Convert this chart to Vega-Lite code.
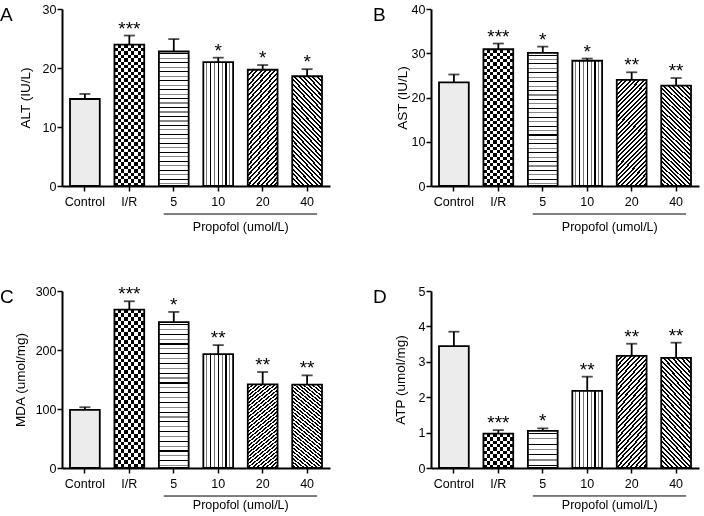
{
 "$schema": "https://vega.github.io/schema/vega-lite/v6.json",
 "padding": {"left": 0, "top": 3, "right": 4, "bottom": 0},
 "params": [
  {"name": "sd", "value": [
   {"offset":0,"color":"#000"},{"offset":0.015,"color":"#000"},{"offset":0.015,"color":"#fff"},{"offset":0.0333,"color":"#fff"},
   {"offset":0.0333,"color":"#000"},{"offset":0.0483,"color":"#000"},{"offset":0.0483,"color":"#fff"},{"offset":0.0667,"color":"#fff"},
   {"offset":0.0667,"color":"#000"},{"offset":0.0817,"color":"#000"},{"offset":0.0817,"color":"#fff"},{"offset":0.1,"color":"#fff"},
   {"offset":0.1,"color":"#000"},{"offset":0.115,"color":"#000"},{"offset":0.115,"color":"#fff"},{"offset":0.1333,"color":"#fff"},
   {"offset":0.1333,"color":"#000"},{"offset":0.1483,"color":"#000"},{"offset":0.1483,"color":"#fff"},{"offset":0.1667,"color":"#fff"},
   {"offset":0.1667,"color":"#000"},{"offset":0.1817,"color":"#000"},{"offset":0.1817,"color":"#fff"},{"offset":0.2,"color":"#fff"},
   {"offset":0.2,"color":"#000"},{"offset":0.215,"color":"#000"},{"offset":0.215,"color":"#fff"},{"offset":0.2333,"color":"#fff"},
   {"offset":0.2333,"color":"#000"},{"offset":0.2483,"color":"#000"},{"offset":0.2483,"color":"#fff"},{"offset":0.2667,"color":"#fff"},
   {"offset":0.2667,"color":"#000"},{"offset":0.2817,"color":"#000"},{"offset":0.2817,"color":"#fff"},{"offset":0.3,"color":"#fff"},
   {"offset":0.3,"color":"#000"},{"offset":0.315,"color":"#000"},{"offset":0.315,"color":"#fff"},{"offset":0.3333,"color":"#fff"},
   {"offset":0.3333,"color":"#000"},{"offset":0.3483,"color":"#000"},{"offset":0.3483,"color":"#fff"},{"offset":0.3667,"color":"#fff"},
   {"offset":0.3667,"color":"#000"},{"offset":0.3817,"color":"#000"},{"offset":0.3817,"color":"#fff"},{"offset":0.4,"color":"#fff"},
   {"offset":0.4,"color":"#000"},{"offset":0.415,"color":"#000"},{"offset":0.415,"color":"#fff"},{"offset":0.4333,"color":"#fff"},
   {"offset":0.4333,"color":"#000"},{"offset":0.4483,"color":"#000"},{"offset":0.4483,"color":"#fff"},{"offset":0.4667,"color":"#fff"},
   {"offset":0.4667,"color":"#000"},{"offset":0.4817,"color":"#000"},{"offset":0.4817,"color":"#fff"},{"offset":0.5,"color":"#fff"},
   {"offset":0.5,"color":"#000"},{"offset":0.515,"color":"#000"},{"offset":0.515,"color":"#fff"},{"offset":0.5333,"color":"#fff"},
   {"offset":0.5333,"color":"#000"},{"offset":0.5483,"color":"#000"},{"offset":0.5483,"color":"#fff"},{"offset":0.5667,"color":"#fff"},
   {"offset":0.5667,"color":"#000"},{"offset":0.5817,"color":"#000"},{"offset":0.5817,"color":"#fff"},{"offset":0.6,"color":"#fff"},
   {"offset":0.6,"color":"#000"},{"offset":0.615,"color":"#000"},{"offset":0.615,"color":"#fff"},{"offset":0.6333,"color":"#fff"},
   {"offset":0.6333,"color":"#000"},{"offset":0.6483,"color":"#000"},{"offset":0.6483,"color":"#fff"},{"offset":0.6667,"color":"#fff"},
   {"offset":0.6667,"color":"#000"},{"offset":0.6817,"color":"#000"},{"offset":0.6817,"color":"#fff"},{"offset":0.7,"color":"#fff"},
   {"offset":0.7,"color":"#000"},{"offset":0.715,"color":"#000"},{"offset":0.715,"color":"#fff"},{"offset":0.7333,"color":"#fff"},
   {"offset":0.7333,"color":"#000"},{"offset":0.7483,"color":"#000"},{"offset":0.7483,"color":"#fff"},{"offset":0.7667,"color":"#fff"},
   {"offset":0.7667,"color":"#000"},{"offset":0.7817,"color":"#000"},{"offset":0.7817,"color":"#fff"},{"offset":0.8,"color":"#fff"},
   {"offset":0.8,"color":"#000"},{"offset":0.815,"color":"#000"},{"offset":0.815,"color":"#fff"},{"offset":0.8333,"color":"#fff"},
   {"offset":0.8333,"color":"#000"},{"offset":0.8483,"color":"#000"},{"offset":0.8483,"color":"#fff"},{"offset":0.8667,"color":"#fff"},
   {"offset":0.8667,"color":"#000"},{"offset":0.8817,"color":"#000"},{"offset":0.8817,"color":"#fff"},{"offset":0.9,"color":"#fff"},
   {"offset":0.9,"color":"#000"},{"offset":0.915,"color":"#000"},{"offset":0.915,"color":"#fff"},{"offset":0.9333,"color":"#fff"},
   {"offset":0.9333,"color":"#000"},{"offset":0.9483,"color":"#000"},{"offset":0.9483,"color":"#fff"},{"offset":0.9667,"color":"#fff"},
   {"offset":0.9667,"color":"#000"},{"offset":0.9817,"color":"#000"},{"offset":0.9817,"color":"#fff"},{"offset":1,"color":"#fff"}
  ]},
  {"name": "g20", "expr": "{gradient: 'linear', x1: 0, y1: 0, x2: 0.34, y2: 1.189, stops: sd}"},
  {"name": "g40", "expr": "{gradient: 'linear', x1: 1, y1: 0, x2: 0.66, y2: 1.189, stops: sd}"},
  {"name": "gV", "value": {"gradient": "linear", "x1": 0, "y1": 0, "x2": 1, "y2": 0, "stops": [
   {"offset":0,"color":"#fff"},
   {"offset":0.102,"color":"#fff"},{"offset":0.102,"color":"#777"},{"offset":0.138,"color":"#777"},{"offset":0.138,"color":"#fff"},
   {"offset":0.222,"color":"#fff"},{"offset":0.222,"color":"#000"},{"offset":0.258,"color":"#000"},{"offset":0.258,"color":"#fff"},
   {"offset":0.342,"color":"#fff"},{"offset":0.342,"color":"#777"},{"offset":0.378,"color":"#777"},{"offset":0.378,"color":"#fff"},
   {"offset":0.482,"color":"#fff"},{"offset":0.482,"color":"#000"},{"offset":0.518,"color":"#000"},{"offset":0.518,"color":"#fff"},
   {"offset":0.622,"color":"#fff"},{"offset":0.622,"color":"#777"},{"offset":0.658,"color":"#777"},{"offset":0.658,"color":"#fff"},
   {"offset":0.742,"color":"#fff"},{"offset":0.742,"color":"#000"},{"offset":0.778,"color":"#000"},{"offset":0.778,"color":"#fff"},
   {"offset":0.862,"color":"#fff"},{"offset":0.862,"color":"#777"},{"offset":0.898,"color":"#777"},{"offset":0.898,"color":"#fff"},
   {"offset":1,"color":"#fff"}
  ]}},
  {"name": "gCV", "value": {"gradient": "linear", "x1": 0, "y1": 0, "x2": 1, "y2": 0, "stops": [
   {"offset":0,"color":"#000"},{"offset":0.1111,"color":"#000"},{"offset":0.1111,"color":"#fff"},{"offset":0.2222,"color":"#fff"},
   {"offset":0.2222,"color":"#000"},{"offset":0.3333,"color":"#000"},{"offset":0.3333,"color":"#fff"},{"offset":0.4444,"color":"#fff"},
   {"offset":0.4444,"color":"#000"},{"offset":0.5556,"color":"#000"},{"offset":0.5556,"color":"#fff"},{"offset":0.6667,"color":"#fff"},
   {"offset":0.6667,"color":"#000"},{"offset":0.7778,"color":"#000"},{"offset":0.7778,"color":"#fff"},{"offset":0.8889,"color":"#fff"},
   {"offset":0.8889,"color":"#000"},{"offset":1,"color":"#000"}
  ]}},
  {"name": "gCH", "value": {"gradient": "linear", "x1": 0, "y1": 0, "x2": 0, "y2": 1, "stops": [
   {"offset":0,"color":"#fff"},{"offset":0.0238,"color":"#fff"},{"offset":0.0238,"color":"#000"},{"offset":0.0476,"color":"#000"},
   {"offset":0.0476,"color":"#fff"},{"offset":0.0714,"color":"#fff"},{"offset":0.0714,"color":"#000"},{"offset":0.0952,"color":"#000"},
   {"offset":0.0952,"color":"#fff"},{"offset":0.119,"color":"#fff"},{"offset":0.119,"color":"#000"},{"offset":0.1429,"color":"#000"},
   {"offset":0.1429,"color":"#fff"},{"offset":0.1667,"color":"#fff"},{"offset":0.1667,"color":"#000"},{"offset":0.1905,"color":"#000"},
   {"offset":0.1905,"color":"#fff"},{"offset":0.2143,"color":"#fff"},{"offset":0.2143,"color":"#000"},{"offset":0.2381,"color":"#000"},
   {"offset":0.2381,"color":"#fff"},{"offset":0.2619,"color":"#fff"},{"offset":0.2619,"color":"#000"},{"offset":0.2857,"color":"#000"},
   {"offset":0.2857,"color":"#fff"},{"offset":0.3095,"color":"#fff"},{"offset":0.3095,"color":"#000"},{"offset":0.3333,"color":"#000"},
   {"offset":0.3333,"color":"#fff"},{"offset":0.3571,"color":"#fff"},{"offset":0.3571,"color":"#000"},{"offset":0.381,"color":"#000"},
   {"offset":0.381,"color":"#fff"},{"offset":0.4048,"color":"#fff"},{"offset":0.4048,"color":"#000"},{"offset":0.4286,"color":"#000"},
   {"offset":0.4286,"color":"#fff"},{"offset":0.4524,"color":"#fff"},{"offset":0.4524,"color":"#000"},{"offset":0.4762,"color":"#000"},
   {"offset":0.4762,"color":"#fff"},{"offset":0.5,"color":"#fff"},{"offset":0.5,"color":"#000"},{"offset":0.5238,"color":"#000"},
   {"offset":0.5238,"color":"#fff"},{"offset":0.5476,"color":"#fff"},{"offset":0.5476,"color":"#000"},{"offset":0.5714,"color":"#000"},
   {"offset":0.5714,"color":"#fff"},{"offset":0.5952,"color":"#fff"},{"offset":0.5952,"color":"#000"},{"offset":0.619,"color":"#000"},
   {"offset":0.619,"color":"#fff"},{"offset":0.6429,"color":"#fff"},{"offset":0.6429,"color":"#000"},{"offset":0.6667,"color":"#000"},
   {"offset":0.6667,"color":"#fff"},{"offset":0.6905,"color":"#fff"},{"offset":0.6905,"color":"#000"},{"offset":0.7143,"color":"#000"},
   {"offset":0.7143,"color":"#fff"},{"offset":0.7381,"color":"#fff"},{"offset":0.7381,"color":"#000"},{"offset":0.7619,"color":"#000"},
   {"offset":0.7619,"color":"#fff"},{"offset":0.7857,"color":"#fff"},{"offset":0.7857,"color":"#000"},{"offset":0.8095,"color":"#000"},
   {"offset":0.8095,"color":"#fff"},{"offset":0.8333,"color":"#fff"},{"offset":0.8333,"color":"#000"},{"offset":0.8571,"color":"#000"},
   {"offset":0.8571,"color":"#fff"},{"offset":0.881,"color":"#fff"},{"offset":0.881,"color":"#000"},{"offset":0.9048,"color":"#000"},
   {"offset":0.9048,"color":"#fff"},{"offset":0.9286,"color":"#fff"},{"offset":0.9286,"color":"#000"},{"offset":0.9524,"color":"#000"},
   {"offset":0.9524,"color":"#fff"},{"offset":0.9762,"color":"#fff"},{"offset":0.9762,"color":"#000"},{"offset":1,"color":"#000"}
  ]}},
  {"name": "gCH2", "value": {"gradient": "linear", "x1": 0, "y1": 0, "x2": 0, "y2": 1, "stops": [
   {"offset":0,"color":"#fff"},{"offset":0.1,"color":"#fff"},{"offset":0.1,"color":"#000"},{"offset":0.2,"color":"#000"},
   {"offset":0.2,"color":"#fff"},{"offset":0.3,"color":"#fff"},{"offset":0.3,"color":"#000"},{"offset":0.4,"color":"#000"},
   {"offset":0.4,"color":"#fff"},{"offset":0.5,"color":"#fff"},{"offset":0.5,"color":"#000"},{"offset":0.6,"color":"#000"},
   {"offset":0.6,"color":"#fff"},{"offset":0.7,"color":"#fff"},{"offset":0.7,"color":"#000"},{"offset":0.8,"color":"#000"},
   {"offset":0.8,"color":"#fff"},{"offset":0.9,"color":"#fff"},{"offset":0.9,"color":"#000"},{"offset":1,"color":"#000"}
  ]}},
  {"name": "gH2", "value": {"gradient": "linear", "x1": 0, "y1": 0, "x2": 0, "y2": 1, "stops": [
   {"offset":0,"color":"#fff"},
   {"offset":0.055,"color":"#fff"},{"offset":0.055,"color":"#000"},{"offset":0.087,"color":"#000"},{"offset":0.087,"color":"#fff"},
   {"offset":0.198,"color":"#fff"},{"offset":0.198,"color":"#888"},{"offset":0.23,"color":"#888"},{"offset":0.23,"color":"#fff"},
   {"offset":0.341,"color":"#fff"},{"offset":0.341,"color":"#000"},{"offset":0.373,"color":"#000"},{"offset":0.373,"color":"#fff"},
   {"offset":0.484,"color":"#fff"},{"offset":0.484,"color":"#888"},{"offset":0.516,"color":"#888"},{"offset":0.516,"color":"#fff"},
   {"offset":0.627,"color":"#fff"},{"offset":0.627,"color":"#000"},{"offset":0.659,"color":"#000"},{"offset":0.659,"color":"#fff"},
   {"offset":0.77,"color":"#fff"},{"offset":0.77,"color":"#888"},{"offset":0.802,"color":"#888"},{"offset":0.802,"color":"#fff"},
   {"offset":0.913,"color":"#fff"},{"offset":0.913,"color":"#000"},{"offset":0.945,"color":"#000"},{"offset":0.945,"color":"#fff"},
   {"offset":1,"color":"#fff"}
  ]}},
  {"name": "gH", "value": {"gradient": "linear", "x1": 0, "y1": 0, "x2": 0, "y2": 1, "stops": [
   {"offset":0,"color":"#fff"},
   {"offset":0.013,"color":"#fff"},{"offset":0.013,"color":"#000"},{"offset":0.021,"color":"#000"},{"offset":0.021,"color":"#fff"},
   {"offset":0.046,"color":"#fff"},{"offset":0.046,"color":"#888"},{"offset":0.054,"color":"#888"},{"offset":0.054,"color":"#fff"},
   {"offset":0.079,"color":"#fff"},{"offset":0.079,"color":"#000"},{"offset":0.087,"color":"#000"},{"offset":0.087,"color":"#fff"},
   {"offset":0.113,"color":"#fff"},{"offset":0.113,"color":"#888"},{"offset":0.121,"color":"#888"},{"offset":0.121,"color":"#fff"},
   {"offset":0.146,"color":"#fff"},{"offset":0.146,"color":"#000"},{"offset":0.154,"color":"#000"},{"offset":0.154,"color":"#fff"},
   {"offset":0.179,"color":"#fff"},{"offset":0.179,"color":"#888"},{"offset":0.187,"color":"#888"},{"offset":0.187,"color":"#fff"},
   {"offset":0.213,"color":"#fff"},{"offset":0.213,"color":"#000"},{"offset":0.221,"color":"#000"},{"offset":0.221,"color":"#fff"},
   {"offset":0.246,"color":"#fff"},{"offset":0.246,"color":"#888"},{"offset":0.254,"color":"#888"},{"offset":0.254,"color":"#fff"},
   {"offset":0.279,"color":"#fff"},{"offset":0.279,"color":"#000"},{"offset":0.287,"color":"#000"},{"offset":0.287,"color":"#fff"},
   {"offset":0.313,"color":"#fff"},{"offset":0.313,"color":"#888"},{"offset":0.321,"color":"#888"},{"offset":0.321,"color":"#fff"},
   {"offset":0.346,"color":"#fff"},{"offset":0.346,"color":"#000"},{"offset":0.354,"color":"#000"},{"offset":0.354,"color":"#fff"},
   {"offset":0.379,"color":"#fff"},{"offset":0.379,"color":"#888"},{"offset":0.387,"color":"#888"},{"offset":0.387,"color":"#fff"},
   {"offset":0.413,"color":"#fff"},{"offset":0.413,"color":"#000"},{"offset":0.421,"color":"#000"},{"offset":0.421,"color":"#fff"},
   {"offset":0.446,"color":"#fff"},{"offset":0.446,"color":"#888"},{"offset":0.454,"color":"#888"},{"offset":0.454,"color":"#fff"},
   {"offset":0.479,"color":"#fff"},{"offset":0.479,"color":"#000"},{"offset":0.487,"color":"#000"},{"offset":0.487,"color":"#fff"},
   {"offset":0.513,"color":"#fff"},{"offset":0.513,"color":"#888"},{"offset":0.521,"color":"#888"},{"offset":0.521,"color":"#fff"},
   {"offset":0.546,"color":"#fff"},{"offset":0.546,"color":"#000"},{"offset":0.554,"color":"#000"},{"offset":0.554,"color":"#fff"},
   {"offset":0.579,"color":"#fff"},{"offset":0.579,"color":"#888"},{"offset":0.587,"color":"#888"},{"offset":0.587,"color":"#fff"},
   {"offset":0.613,"color":"#fff"},{"offset":0.613,"color":"#000"},{"offset":0.621,"color":"#000"},{"offset":0.621,"color":"#fff"},
   {"offset":0.646,"color":"#fff"},{"offset":0.646,"color":"#888"},{"offset":0.654,"color":"#888"},{"offset":0.654,"color":"#fff"},
   {"offset":0.679,"color":"#fff"},{"offset":0.679,"color":"#000"},{"offset":0.687,"color":"#000"},{"offset":0.687,"color":"#fff"},
   {"offset":0.713,"color":"#fff"},{"offset":0.713,"color":"#888"},{"offset":0.721,"color":"#888"},{"offset":0.721,"color":"#fff"},
   {"offset":0.746,"color":"#fff"},{"offset":0.746,"color":"#000"},{"offset":0.754,"color":"#000"},{"offset":0.754,"color":"#fff"},
   {"offset":0.779,"color":"#fff"},{"offset":0.779,"color":"#888"},{"offset":0.787,"color":"#888"},{"offset":0.787,"color":"#fff"},
   {"offset":0.813,"color":"#fff"},{"offset":0.813,"color":"#000"},{"offset":0.821,"color":"#000"},{"offset":0.821,"color":"#fff"},
   {"offset":0.846,"color":"#fff"},{"offset":0.846,"color":"#888"},{"offset":0.854,"color":"#888"},{"offset":0.854,"color":"#fff"},
   {"offset":0.879,"color":"#fff"},{"offset":0.879,"color":"#000"},{"offset":0.887,"color":"#000"},{"offset":0.887,"color":"#fff"},
   {"offset":0.913,"color":"#fff"},{"offset":0.913,"color":"#888"},{"offset":0.921,"color":"#888"},{"offset":0.921,"color":"#fff"},
   {"offset":0.946,"color":"#fff"},{"offset":0.946,"color":"#000"},{"offset":0.954,"color":"#000"},{"offset":0.954,"color":"#fff"},
   {"offset":0.979,"color":"#fff"},{"offset":0.979,"color":"#888"},{"offset":0.987,"color":"#888"},{"offset":0.987,"color":"#fff"},
   {"offset":1,"color":"#fff"}
  ]}}
 ],
 "datasets": {
  "A": [
   {"g":"Control","v":14.75,"e":15.6,"s":""},
   {"g":"I/R","v":23.95,"e":25.5,"s":"***"},
   {"g":"5","v":22.8,"e":24.9,"s":""},
   {"g":"10","v":21.0,"e":21.75,"s":"*"},
   {"g":"20","v":19.7,"e":20.5,"s":"*"},
   {"g":"40","v":18.6,"e":19.8,"s":"*"}
  ],
  "B": [
   {"g":"Control","v":23.4,"e":25.2,"s":""},
   {"g":"I/R","v":30.9,"e":32.2,"s":"***"},
   {"g":"5","v":30.1,"e":31.5,"s":"*"},
   {"g":"10","v":28.3,"e":28.8,"s":"*"},
   {"g":"20","v":24.0,"e":25.7,"s":"**"},
   {"g":"40","v":22.7,"e":24.4,"s":"**"}
  ],
  "C": [
   {"g":"Control","v":98.6,"e":103,"s":""},
   {"g":"I/R","v":268.4,"e":282.6,"s":"***"},
   {"g":"5","v":247.2,"e":264.5,"s":"*"},
   {"g":"10","v":193.1,"e":208.3,"s":"**"},
   {"g":"20","v":141.8,"e":162.7,"s":"**"},
   {"g":"40","v":141.3,"e":157,"s":"**"}
  ],
  "D": [
   {"g":"Control","v":3.44,"e":3.85,"s":""},
   {"g":"I/R","v":0.97,"e":1.07,"s":"***"},
   {"g":"5","v":1.05,"e":1.12,"s":"*"},
   {"g":"10","v":2.18,"e":2.58,"s":"**"},
   {"g":"20","v":3.17,"e":3.51,"s":"**"},
   {"g":"40","v":3.11,"e":3.54,"s":"**"}
  ]
 },
 "columns": 2,
 "spacing": {"row": 105, "column": 101},
 "bounds": "flush",
 "concat": [
  {
   "width": 268, "height": 177,
   "title": {"text": "A", "dx": -62},
   "data": {"name": "A"},
   "encoding": {"x": {"field": "g", "type": "nominal", "sort": null, "title": null, "scale": {"domain": ["Control","I/R","5","10","20","40"], "paddingInner": 0.33, "paddingOuter": 0.18}}},
   "layer": [
    {"mark": {"type": "bar", "stroke": "#000", "strokeWidth": 1.8},
     "encoding": {
      "y": {"field": "v", "type": "quantitative", "title": "ALT (IU/L)", "scale": {"domain": [0, 30], "nice": false}, "axis": {"values": [0, 10, 20, 30], "titlePadding": 10, "titleFontSize": 13.5, "labelOverlap": false}},
      "fill": {"condition": [
        {"test": "datum.g === 'Control'", "value": "#ececec"},
        {"test": "datum.g === 'I/R'", "value": {"expr": "gCH"}},
        {"test": "datum.g === '5'", "value": {"expr": "gH"}},
        {"test": "datum.g === '10'", "value": {"expr": "gV"}},
        {"test": "datum.g === '20'", "value": {"expr": "g20"}}
       ], "value": {"expr": "g40"}}
     }},
    {"transform": [{"filter": "datum.g === 'I/R'"}], "mark": {"type": "bar", "stroke": "#000", "strokeWidth": 1.8, "blend": "difference", "fill": {"expr": "gCV"}},
     "encoding": {"y": {"field": "v", "type": "quantitative", "title": "ALT (IU/L)", "axis": {"values": [0, 10, 20, 30], "titlePadding": 10, "titleFontSize": 13.5, "labelOverlap": false}}}},
    {"mark": {"type": "rule", "color": "#000", "strokeWidth": 1.8}, "encoding": {"y": {"field": "v", "type": "quantitative", "title": "ALT (IU/L)", "axis": {"values": [0, 10, 20, 30], "titlePadding": 10, "titleFontSize": 13.5, "labelOverlap": false}}, "y2": {"field": "e"}}},
    {"mark": {"type": "tick", "color": "#000", "size": 11, "thickness": 1.8}, "encoding": {"y": {"field": "e", "type": "quantitative", "title": "ALT (IU/L)", "axis": {"values": [0, 10, 20, 30], "titlePadding": 10, "titleFontSize": 13.5, "labelOverlap": false}}}},
    {"mark": {"type": "text", "fontSize": 19, "baseline": "alphabetic", "dy": -1, "color": "#000"}, "encoding": {"y": {"field": "e", "type": "quantitative", "title": "ALT (IU/L)", "axis": {"values": [0, 10, 20, 30], "titlePadding": 10, "titleFontSize": 13.5, "labelOverlap": false}}, "text": {"field": "s"}}},
    {"data": {"values": [{"a": "5", "b": "40"}]}, "mark": {"type": "rule", "color": "#000", "strokeWidth": 1, "xOffset": -10, "x2Offset": 10},
     "encoding": {"x": {"field": "a", "type": "nominal", "sort": null, "title": null}, "x2": {"field": "b"}, "y": {"datum": -4.75, "title": "ALT (IU/L)", "axis": {"values": [0, 10, 20, 30], "titlePadding": 10, "titleFontSize": 13.5, "labelOverlap": false}}}},
    {"data": {"values": [{"a": "20", "t": "Propofol (umol/L)"}]}, "mark": {"type": "text", "fontSize": 12.5, "baseline": "alphabetic", "dx": -7, "color": "#000"},
     "encoding": {"x": {"field": "a", "type": "nominal", "sort": null, "title": null, "bandPosition": 0}, "y": {"datum": -7.63, "title": "ALT (IU/L)", "axis": {"values": [0, 10, 20, 30], "titlePadding": 10, "titleFontSize": 13.5, "labelOverlap": false}}, "text": {"field": "t"}}}
   ]
  },
  {
   "width": 268, "height": 177,
   "title": {"text": "B", "dx": -58},
   "data": {"name": "B"},
   "encoding": {"x": {"field": "g", "type": "nominal", "sort": null, "title": null, "scale": {"domain": ["Control","I/R","5","10","20","40"], "paddingInner": 0.33, "paddingOuter": 0.18}}},
   "layer": [
    {"mark": {"type": "bar", "stroke": "#000", "strokeWidth": 1.8},
     "encoding": {
      "y": {"field": "v", "type": "quantitative", "title": "AST (IU/L)", "scale": {"domain": [0, 40], "nice": false}, "axis": {"values": [0, 10, 20, 30, 40], "titlePadding": 1.5, "titleFontSize": 13.5, "labelOverlap": false}},
      "fill": {"condition": [
        {"test": "datum.g === 'Control'", "value": "#ececec"},
        {"test": "datum.g === 'I/R'", "value": {"expr": "gCH"}},
        {"test": "datum.g === '5'", "value": {"expr": "gH"}},
        {"test": "datum.g === '10'", "value": {"expr": "gV"}},
        {"test": "datum.g === '20'", "value": {"expr": "g20"}}
       ], "value": {"expr": "g40"}}
     }},
    {"transform": [{"filter": "datum.g === 'I/R'"}], "mark": {"type": "bar", "stroke": "#000", "strokeWidth": 1.8, "blend": "difference", "fill": {"expr": "gCV"}},
     "encoding": {"y": {"field": "v", "type": "quantitative", "title": "AST (IU/L)", "axis": {"values": [0, 10, 20, 30, 40], "titlePadding": 1.5, "titleFontSize": 13.5, "labelOverlap": false}}}},
    {"mark": {"type": "rule", "color": "#000", "strokeWidth": 1.8}, "encoding": {"y": {"field": "v", "type": "quantitative", "title": "AST (IU/L)", "axis": {"values": [0, 10, 20, 30, 40], "titlePadding": 1.5, "titleFontSize": 13.5, "labelOverlap": false}}, "y2": {"field": "e"}}},
    {"mark": {"type": "tick", "color": "#000", "size": 11, "thickness": 1.8}, "encoding": {"y": {"field": "e", "type": "quantitative", "title": "AST (IU/L)", "axis": {"values": [0, 10, 20, 30, 40], "titlePadding": 1.5, "titleFontSize": 13.5, "labelOverlap": false}}}},
    {"mark": {"type": "text", "fontSize": 19, "baseline": "alphabetic", "dy": -1, "color": "#000"}, "encoding": {"y": {"field": "e", "type": "quantitative", "title": "AST (IU/L)", "axis": {"values": [0, 10, 20, 30, 40], "titlePadding": 1.5, "titleFontSize": 13.5, "labelOverlap": false}}, "text": {"field": "s"}}},
    {"data": {"values": [{"a": "5", "b": "40"}]}, "mark": {"type": "rule", "color": "#000", "strokeWidth": 1, "xOffset": -10, "x2Offset": 10},
     "encoding": {"x": {"field": "a", "type": "nominal", "sort": null, "title": null}, "x2": {"field": "b"}, "y": {"datum": -6.33, "title": "AST (IU/L)", "axis": {"values": [0, 10, 20, 30, 40], "titlePadding": 1.5, "titleFontSize": 13.5, "labelOverlap": false}}}},
    {"data": {"values": [{"a": "20", "t": "Propofol (umol/L)"}]}, "mark": {"type": "text", "fontSize": 12.5, "baseline": "alphabetic", "dx": -7, "color": "#000"},
     "encoding": {"x": {"field": "a", "type": "nominal", "sort": null, "title": null, "bandPosition": 0}, "y": {"datum": -10.17, "title": "AST (IU/L)", "axis": {"values": [0, 10, 20, 30, 40], "titlePadding": 1.5, "titleFontSize": 13.5, "labelOverlap": false}}, "text": {"field": "t"}}}
   ]
  },
  {
   "width": 268, "height": 177,
   "title": {"text": "C", "dx": -62},
   "data": {"name": "C"},
   "encoding": {"x": {"field": "g", "type": "nominal", "sort": null, "title": null, "scale": {"domain": ["Control","I/R","5","10","20","40"], "paddingInner": 0.33, "paddingOuter": 0.18}}},
   "layer": [
    {"mark": {"type": "bar", "stroke": "#000", "strokeWidth": 1.8},
     "encoding": {
      "y": {"field": "v", "type": "quantitative", "title": "MDA (umol/mg)", "scale": {"domain": [0, 300], "nice": false}, "axis": {"values": [0, 100, 200, 300], "titlePadding": 8, "titleFontSize": 13.5, "labelOverlap": false}},
      "fill": {"condition": [
        {"test": "datum.g === 'Control'", "value": "#ececec"},
        {"test": "datum.g === 'I/R'", "value": {"expr": "gCH"}},
        {"test": "datum.g === '5'", "value": {"expr": "gH"}},
        {"test": "datum.g === '10'", "value": {"expr": "gV"}},
        {"test": "datum.g === '20'", "value": {"expr": "g20"}}
       ], "value": {"expr": "g40"}}
     }},
    {"transform": [{"filter": "datum.g === 'I/R'"}], "mark": {"type": "bar", "stroke": "#000", "strokeWidth": 1.8, "blend": "difference", "fill": {"expr": "gCV"}},
     "encoding": {"y": {"field": "v", "type": "quantitative", "title": "MDA (umol/mg)", "axis": {"values": [0, 100, 200, 300], "titlePadding": 8, "titleFontSize": 13.5, "labelOverlap": false}}}},
    {"mark": {"type": "rule", "color": "#000", "strokeWidth": 1.8}, "encoding": {"y": {"field": "v", "type": "quantitative", "title": "MDA (umol/mg)", "axis": {"values": [0, 100, 200, 300], "titlePadding": 8, "titleFontSize": 13.5, "labelOverlap": false}}, "y2": {"field": "e"}}},
    {"mark": {"type": "tick", "color": "#000", "size": 11, "thickness": 1.8}, "encoding": {"y": {"field": "e", "type": "quantitative", "title": "MDA (umol/mg)", "axis": {"values": [0, 100, 200, 300], "titlePadding": 8, "titleFontSize": 13.5, "labelOverlap": false}}}},
    {"mark": {"type": "text", "fontSize": 19, "baseline": "alphabetic", "dy": -1, "color": "#000"}, "encoding": {"y": {"field": "e", "type": "quantitative", "title": "MDA (umol/mg)", "axis": {"values": [0, 100, 200, 300], "titlePadding": 8, "titleFontSize": 13.5, "labelOverlap": false}}, "text": {"field": "s"}}},
    {"data": {"values": [{"a": "5", "b": "40"}]}, "mark": {"type": "rule", "color": "#000", "strokeWidth": 1, "xOffset": -10, "x2Offset": 10},
     "encoding": {"x": {"field": "a", "type": "nominal", "sort": null, "title": null}, "x2": {"field": "b"}, "y": {"datum": -47.5, "title": "MDA (umol/mg)", "axis": {"values": [0, 100, 200, 300], "titlePadding": 8, "titleFontSize": 13.5, "labelOverlap": false}}}},
    {"data": {"values": [{"a": "20", "t": "Propofol (umol/L)"}]}, "mark": {"type": "text", "fontSize": 12.5, "baseline": "alphabetic", "dx": -7, "color": "#000"},
     "encoding": {"x": {"field": "a", "type": "nominal", "sort": null, "title": null, "bandPosition": 0}, "y": {"datum": -70, "title": "MDA (umol/mg)", "axis": {"values": [0, 100, 200, 300], "titlePadding": 8, "titleFontSize": 13.5, "labelOverlap": false}}, "text": {"field": "t"}}}
   ]
  },
  {
   "width": 268, "height": 177,
   "title": {"text": "D", "dx": -58},
   "data": {"name": "D"},
   "encoding": {"x": {"field": "g", "type": "nominal", "sort": null, "title": null, "scale": {"domain": ["Control","I/R","5","10","20","40"], "paddingInner": 0.33, "paddingOuter": 0.18}}},
   "layer": [
    {"mark": {"type": "bar", "stroke": "#000", "strokeWidth": 1.8},
     "encoding": {
      "y": {"field": "v", "type": "quantitative", "title": "ATP (umol/mg)", "scale": {"domain": [0, 5], "nice": false}, "axis": {"values": [0, 1, 2, 3, 4, 5], "titlePadding": 10.5, "titleFontSize": 13.5, "labelOverlap": false}},
      "fill": {"condition": [
        {"test": "datum.g === 'Control'", "value": "#ececec"},
        {"test": "datum.g === 'I/R'", "value": {"expr": "gCH2"}},
        {"test": "datum.g === '5'", "value": {"expr": "gH2"}},
        {"test": "datum.g === '10'", "value": {"expr": "gV"}},
        {"test": "datum.g === '20'", "value": {"expr": "g20"}}
       ], "value": {"expr": "g40"}}
     }},
    {"transform": [{"filter": "datum.g === 'I/R'"}], "mark": {"type": "bar", "stroke": "#000", "strokeWidth": 1.8, "blend": "difference", "fill": {"expr": "gCV"}},
     "encoding": {"y": {"field": "v", "type": "quantitative", "title": "ATP (umol/mg)", "axis": {"values": [0, 1, 2, 3, 4, 5], "titlePadding": 10.5, "titleFontSize": 13.5, "labelOverlap": false}}}},
    {"mark": {"type": "rule", "color": "#000", "strokeWidth": 1.8}, "encoding": {"y": {"field": "v", "type": "quantitative", "title": "ATP (umol/mg)", "axis": {"values": [0, 1, 2, 3, 4, 5], "titlePadding": 10.5, "titleFontSize": 13.5, "labelOverlap": false}}, "y2": {"field": "e"}}},
    {"mark": {"type": "tick", "color": "#000", "size": 11, "thickness": 1.8}, "encoding": {"y": {"field": "e", "type": "quantitative", "title": "ATP (umol/mg)", "axis": {"values": [0, 1, 2, 3, 4, 5], "titlePadding": 10.5, "titleFontSize": 13.5, "labelOverlap": false}}}},
    {"mark": {"type": "text", "fontSize": 19, "baseline": "alphabetic", "dy": -1, "color": "#000"}, "encoding": {"y": {"field": "e", "type": "quantitative", "title": "ATP (umol/mg)", "axis": {"values": [0, 1, 2, 3, 4, 5], "titlePadding": 10.5, "titleFontSize": 13.5, "labelOverlap": false}}, "text": {"field": "s"}}},
    {"data": {"values": [{"a": "5", "b": "40"}]}, "mark": {"type": "rule", "color": "#000", "strokeWidth": 1, "xOffset": -10, "x2Offset": 10},
     "encoding": {"x": {"field": "a", "type": "nominal", "sort": null, "title": null}, "x2": {"field": "b"}, "y": {"datum": -0.79, "title": "ATP (umol/mg)", "axis": {"values": [0, 1, 2, 3, 4, 5], "titlePadding": 10.5, "titleFontSize": 13.5, "labelOverlap": false}}}},
    {"data": {"values": [{"a": "20", "t": "Propofol (umol/L)"}]}, "mark": {"type": "text", "fontSize": 12.5, "baseline": "alphabetic", "dx": -7, "color": "#000"},
     "encoding": {"x": {"field": "a", "type": "nominal", "sort": null, "title": null, "bandPosition": 0}, "y": {"datum": -1.165, "title": "ATP (umol/mg)", "axis": {"values": [0, 1, 2, 3, 4, 5], "titlePadding": 10.5, "titleFontSize": 13.5, "labelOverlap": false}}, "text": {"field": "t"}}}
   ]
  }
 ],
 "config": {
  "font": "Liberation Sans",
  "view": {"stroke": null},
  "axis": {"domainColor": "#000", "domainWidth": 2, "tickColor": "#000", "tickWidth": 1.5, "tickSize": 5, "labelColor": "#000", "labelFontSize": 12.5, "titleColor": "#000", "titleFontSize": 13.5, "titleFontWeight": "normal", "grid": false, "labelOverlap": false, "labelBound": false},
  "axisX": {"labelAngle": 0, "labelPadding": 4},
  "axisY": {"labelPadding": 1, "titleFontSize": 13.5},
  "title": {"fontSize": 19, "fontWeight": "normal", "color": "#000", "anchor": "start", "frame": "group", "offset": 0, "baseline": "alphabetic", "dy": 26}
 }
}
